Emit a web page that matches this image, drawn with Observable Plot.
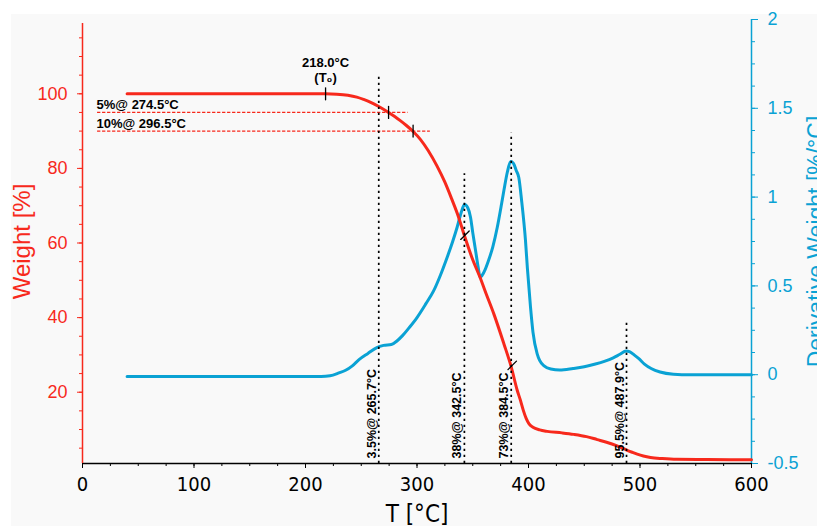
<!DOCTYPE html>
<html><head><meta charset="utf-8">
<script src="https://cdn.jsdelivr.net/npm/d3@7"></script>
<script src="https://cdn.jsdelivr.net/npm/@observablehq/plot@0.6"></script>
<style>
html,body{margin:0;padding:0;background:#fff;}
#wrap{position:relative;width:817px;height:526px;overflow:hidden;}
#panel{position:absolute;left:11px;top:14px;width:806px;height:512px;background:#f9f9f9;}
#chart{position:absolute;left:0;top:0;}
</style></head><body>
<div id="wrap"><div id="panel"></div><div id="chart"></div></div>
<script>
// ---- data ----
const tgaTemp   = [40,100,150,200,218,228,238,246,252,258,265.7,274.5,280,285,290.5,296.5,303,310,318,325,331,337,342.5,350,356.5,362,368.9,377.9,384.5,389.8,392.8,395.5,398,400.5,404,410,416.7,430,440.6,452,461.6,470,479.5,488,493,497.5,503,509.4,520,533,560,600];
const tgaWeight = [100,100,100,100,100,99.9,99.6,99.1,98.5,97.8,96.6,95,93.9,92.8,91.5,89.9,87.8,84.8,80.6,76.3,71.9,67.2,62,55.5,50.8,46.4,41,33,26.8,20.6,17.8,15,12.9,11.5,10.6,9.9,9.5,9.1,8.7,8.1,7.3,6.6,5.6,4.5,3.9,3.4,2.9,2.5,2.2,2.0,1.95,1.9];

const dtgTemp  = [40,100,150,200,214,222,230,236,242,248,256,264,270,277,282,287,293,300,308,315,321,327,332,336,339.5,342.6,345.5,348,350,352.5,355,356.6,358.5,361,364,368,372,375.5,378,381,384,386.5,389,391.3,394,397.3,399,401.8,404,407.8,410,414,420,428,440,450,460,468,476,482,487.5,491,495,499,504,510,518,530,545,570,600];
const dtgValue = [-0.01,-0.01,-0.01,-0.01,-0.01,-0.006,0.01,0.025,0.05,0.085,0.12,0.153,0.165,0.17,0.19,0.22,0.265,0.322,0.4,0.473,0.56,0.66,0.75,0.83,0.91,0.958,0.94,0.887,0.8,0.7,0.6,0.548,0.56,0.59,0.64,0.72,0.83,0.95,1.04,1.14,1.2,1.19,1.15,1.11,0.97,0.755,0.6,0.38,0.24,0.117,0.08,0.05,0.032,0.026,0.035,0.045,0.06,0.075,0.095,0.115,0.133,0.128,0.11,0.09,0.06,0.035,0.015,0.003,0,0,0];

const xTicks = [0,100,200,300,400,500,600];
const weightTicks = [20,40,60,80,100];
const derivTicks = [-0.5,0,0.5,1,1.5,2];
const derivTickLabels = ["-0.5","0","0.5","1","1.5","2"];

const onsetTemp = 218.0;
const onsetWeight = 100;
const lossLevels = [95, 90];
const lossTemps = [274.5, 296.5];
const lossLabels = ["5%@ 274.5°C", "10%@ 296.5°C"];
const lossLineStart = 13.5;
const lossLineEnd = [292, 312];

const stageTemps = [265.7, 342.5, 384.5, 487.9];
const stageLabels = ["3.5%@ 265.7°C", "38%@ 342.5°C", "73%@ 384.5°C", "95.5%@ 487.9°C"];
const stageLineTop = [104.9, 78.6, 89.4, 39.2];
const slashTemps = [343, 385.4];
const slashWeights = [62.1, 27.2];

// ---- scales ----
const W_MIN = 0.89, W_MAX = 119.92, W_AXIS_TOP = 118.85;
const D_MIN = -0.5, D_MAX = 2;
const toW = d => W_MIN + (d - D_MIN) * (W_MAX - W_MIN) / (D_MAX - D_MIN);
const derivLabelMap = new Map(derivTicks.map((d, i) => [toW(d), derivTickLabels[i]]));

const RED = "#f7291c";
const BLUE = "#0aa2d4";
const SANS = "'Liberation Sans', Arial, Helvetica, sans-serif";
const NARROW = "'Liberation Sans Narrow', 'Arial Narrow', 'DejaVu Sans Condensed', sans-serif";

const tga = tgaTemp.map((t, i) => ({t, w: tgaWeight[i]}));
const dtg = dtgTemp.map((t, i) => ({t, d: dtgValue[i]}));
const tickMarks = [
  {t: onsetTemp, w: onsetWeight, r: 0},
  {t: lossTemps[0], w: lossLevels[0], r: 0},
  {t: lossTemps[1], w: lossLevels[1], r: 0},
  {t: slashTemps[0], w: slashWeights[0], r: 45},
  {t: slashTemps[1], w: slashWeights[1], r: 45}
];
const lineShape = {draw(context, l) { context.moveTo(0, 0); context.lineTo(0, -l); }};

const chart = Plot.plot({
  width: 817, height: 526,
  marginLeft: 82, marginRight: 66, marginTop: 19, marginBottom: 63,
  style: {background: "transparent", fontFamily: SANS, overflow: "visible"},
  x: {domain: [0, 600]},
  y: {domain: [W_MIN, W_MAX]},
  marks: [
    // axes
    Plot.axisX({ticks: d3.range(0, 601, 25), tickSize: 3, fill: "none", stroke: "black", label: null}),
    Plot.axisX({ticks: xTicks, tickSize: 5, tickPadding: 8, color: "black", fontSize: 20, fontFamily: NARROW, label: null}),
    Plot.axisY({ticks: d3.range(5, 119, 5), anchor: "left", tickSize: 3, fill: "none", stroke: RED, label: null}),
    Plot.axisY({ticks: weightTicks, anchor: "left", tickSize: 5, tickPadding: 10, color: RED, fontSize: 18, label: null}),
    Plot.axisY({ticks: d3.range(-0.5, 2.001, 0.125).map(toW), anchor: "right", tickSize: 3, fill: "none", stroke: BLUE, label: null}),
    Plot.axisY({ticks: derivTicks.map(toW), anchor: "right", tickSize: 6, tickPadding: 10, color: BLUE, fontSize: 18, tickFormat: w => derivLabelMap.get(w), label: null}),
    Plot.ruleY([W_MIN], {stroke: "black", strokeWidth: 1.5}),
    Plot.ruleX([0], {y1: W_MIN, y2: W_AXIS_TOP, stroke: RED, strokeWidth: 1.5}),
    Plot.ruleX([600], {y1: W_MIN, y2: W_MAX, stroke: BLUE, strokeWidth: 1.5}),
    // titles
    Plot.text(["Weight [%]"], {text: d => d, frameAnchor: "left", dx: -53, rotate: -90, textAnchor: "middle", lineAnchor: "bottom", fontSize: 24, fill: RED}),
    Plot.text(["Derivative Weight [%/°C]"], {text: d => d, frameAnchor: "right", dx: 72, rotate: -90, textAnchor: "middle", lineAnchor: "bottom", fontSize: 23, fill: BLUE}),
    Plot.text(["T [°C]"], {text: d => d, frameAnchor: "bottom", dy: 58, textAnchor: "middle", lineAnchor: "bottom", fontSize: 24, fontFamily: NARROW}),
    // red dashed loss levels
    Plot.ruleY([0, 1], {y: i => lossLevels[i], x1: lossLineStart, x2: i => lossLineEnd[i], stroke: RED, strokeWidth: 1.2, strokeDasharray: "3.3,1.7"}),
    // curves
    Plot.line(dtg, {x: "t", y: d => toW(d.d), stroke: BLUE, strokeWidth: 3, curve: "monotone-x"}),
    Plot.line(tga, {x: "t", y: "w", stroke: RED, strokeWidth: 3, curve: "monotone-x"}),
    // dotted stage lines
    Plot.ruleX([0, 1, 2, 3], {x: i => stageTemps[i], y1: W_MIN, y2: i => stageLineTop[i], stroke: "black", strokeWidth: 1.7, strokeDasharray: "2.2,3.8"}),
    // tick marks on curve
    Plot.vector(tickMarks, {x: "t", y: "w", rotate: "r", length: 12, anchor: "middle", shape: lineShape, stroke: "black", strokeWidth: 1.3}),
    // annotation labels
    Plot.text([onsetTemp], {x: d => d, y: () => onsetWeight, text: d => d.toFixed(1) + "°C", dy: -26.6, textAnchor: "middle", lineAnchor: "bottom", fontWeight: "bold", fontSize: 13}),
    Plot.text([onsetTemp], {x: d => d, y: () => onsetWeight, text: () => "(T₀)", dy: -11.6, textAnchor: "middle", lineAnchor: "bottom", fontWeight: "bold", fontSize: 13}),
    Plot.text([0, 1], {x: () => lossLineStart, y: i => lossLevels[i], text: i => lossLabels[i], dx: -1, dy: -3.5, textAnchor: "start", lineAnchor: "bottom", fontWeight: "bold", fontSize: 13}),
    Plot.text([0, 1, 2, 3], {x: i => stageTemps[i], y: () => W_MIN, text: i => stageLabels[i], rotate: -90, dx: -3, dy: -5, textAnchor: "start", lineAnchor: "bottom", fontWeight: "bold", fontSize: 12.5})
  ]
});
document.getElementById("chart").appendChild(chart);
</script>
</body></html>
